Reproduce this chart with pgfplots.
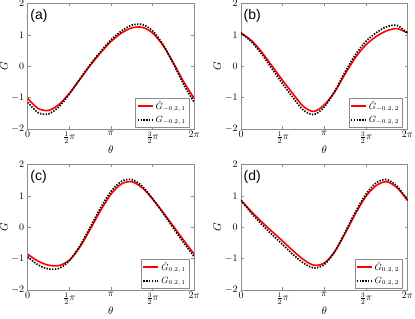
\documentclass[border=0pt]{standalone}
\usepackage{pgfplots}
\pgfplotsset{compat=1.18}
\usepackage{fontspec}
\newfontfamily\panelfont{Liberation Sans}
\definecolor{boxgray}{rgb}{0.55,0.55,0.55}
\pgfplotsset{
  gpanel/.style={
    scale only axis, width=166.5bp, height=125.5bp,
    anchor=south west,
    xmin=0, xmax=2, ymin=-2, ymax=2,
    xtick={0,0.5,1,1.5,2},
    xticklabels={$0$,$\frac{1}{2}\pi$,$\pi$,$\frac{3}{2}\pi$,$2\pi$},
    ytick={-2,-1,0,1,2},
    tick align=inside, tick pos=both,
    major tick length=3bp,
    axis line style={draw=boxgray, line width=0.5bp},
    every tick/.style={draw=boxgray, line width=0.5bp},
    tick label style={font=\fontsize{10}{12}\selectfont},
    label style={font=\fontsize{11}{13}\selectfont},
    xlabel={$\theta$}, ylabel={$G$},
    xlabel style={yshift=4bp},
    ylabel style={yshift=-3bp},
    xticklabel style={yshift=1bp},
    legend style={at={(0.97,0.015)}, anchor=south east, draw=boxgray,
      font=\fontsize{9}{10}\selectfont, inner sep=1.2bp, row sep=1bp},
    legend cell align=left,
    legend image code/.code={\draw[##1] (0bp,0bp) -- (15bp,0bp);},
  },
  redline/.style={red, line width=1.6bp, smooth, tension=0.5, no markers},
  blackline/.style={black, line width=1.7bp, dash pattern=on 1.4bp off 1.4bp, smooth, tension=0.5, no markers},
}
\begin{document}
\begin{tikzpicture}
\useasboundingbox (0,0) rectangle (415bp,319bp);
% (a)
\begin{axis}[gpanel, at={(27.7bp,190bp)}]
\addplot[redline] coordinates {(0,-1.025) (0.125,-1.346) (0.25,-1.406) (0.375,-1.220) (0.5,-0.861) (0.625,-0.422) (0.75,0.022) (0.875,0.427) (1.0,0.785) (1.125,1.055) (1.25,1.222) (1.375,1.240) (1.5,1.061) (1.625,0.665) (1.75,0.108) (1.875,-0.501) (2.0,-1.025)};
\addplot[blackline] coordinates {(0,-1.150) (0.125,-1.480) (0.25,-1.519) (0.375,-1.293) (0.5,-0.890) (0.625,-0.415) (0.75,0.051) (0.875,0.469) (1.0,0.840) (1.125,1.122) (1.25,1.309) (1.375,1.331) (1.5,1.130) (1.625,0.693) (1.75,0.079) (1.875,-0.587) (2.0,-1.150)};
\legend{$\hat{G}_{-0.2,\,1}$,$G_{-0.2,\,1}$}
\node[anchor=north west, font=\panelfont\fontsize{14}{14}\selectfont, inner sep=0pt] at (rel axis cs:0.015,0.955) {(a)};
\end{axis}
% (b)
\begin{axis}[gpanel, at={(241bp,190bp)}]
\addplot[redline] coordinates {(0,1.06) (0.125,0.82) (0.25,0.45) (0.375,0.0) (0.5,-0.45) (0.625,-0.88) (0.75,-1.28) (0.875,-1.44) (1.0,-1.23) (1.125,-0.82) (1.25,-0.25) (1.375,0.28) (1.5,0.68) (1.625,0.95) (1.75,1.13) (1.875,1.20) (2.0,1.06)};
\addplot[blackline] coordinates {(0,1.06) (0.125,0.78) (0.25,0.38) (0.375,-0.09) (0.5,-0.56) (0.625,-1.00) (0.75,-1.40) (0.875,-1.54) (1.0,-1.30) (1.125,-0.80) (1.25,-0.18) (1.375,0.37) (1.5,0.79) (1.625,1.07) (1.75,1.26) (1.875,1.30) (2.0,1.06)};
\legend{$\hat{G}_{-0.2,\,2}$,$G_{-0.2,\,2}$}
\node[anchor=north west, font=\panelfont\fontsize{14}{14}\selectfont, inner sep=0pt] at (rel axis cs:0.015,0.955) {(b)};
\end{axis}
% (c)
\begin{axis}[gpanel, at={(27.7bp,29bp)}]
\addplot[redline] coordinates {(0,-0.86) (0.125,-1.08) (0.25,-1.21) (0.375,-1.22) (0.5,-1.05) (0.625,-0.64) (0.75,-0.07) (0.875,0.53) (1.0,1.05) (1.125,1.38) (1.25,1.45) (1.375,1.26) (1.5,0.90) (1.625,0.48) (1.75,0.03) (1.875,-0.42) (2.0,-0.86)};
\addplot[blackline] coordinates {(0,-0.94) (0.125,-1.20) (0.25,-1.33) (0.375,-1.31) (0.5,-1.07) (0.625,-0.60) (0.75,0.0) (0.875,0.62) (1.0,1.14) (1.125,1.46) (1.25,1.52) (1.375,1.31) (1.5,0.91) (1.625,0.45) (1.75,-0.03) (1.875,-0.50) (2.0,-0.94)};
\legend{$\hat{G}_{0.2,\,1}$,$G_{0.2,\,1}$}
\node[anchor=north west, font=\panelfont\fontsize{14}{14}\selectfont, inner sep=0pt] at (rel axis cs:0.015,0.955) {(c)};
\end{axis}
% (d)
\begin{axis}[gpanel, at={(241bp,29bp)}]
\addplot[redline] coordinates {(0,0.86) (0.125,0.50) (0.25,0.17) (0.375,-0.14) (0.5,-0.44) (0.625,-0.75) (0.75,-1.03) (0.875,-1.21) (1.0,-1.14) (1.125,-0.78) (1.25,-0.20) (1.375,0.43) (1.5,0.98) (1.625,1.33) (1.75,1.45) (1.875,1.26) (2.0,0.86)};
\addplot[blackline] coordinates {(0,0.86) (0.125,0.45) (0.25,0.09) (0.375,-0.24) (0.5,-0.55) (0.625,-0.87) (0.75,-1.14) (0.875,-1.30) (1.0,-1.19) (1.125,-0.78) (1.25,-0.16) (1.375,0.49) (1.5,1.05) (1.625,1.42) (1.75,1.52) (1.875,1.31) (2.0,0.86)};
\legend{$\hat{G}_{0.2,\,2}$,$G_{0.2,\,2}$}
\node[anchor=north west, font=\panelfont\fontsize{14}{14}\selectfont, inner sep=0pt] at (rel axis cs:0.015,0.955) {(d)};
\end{axis}
\end{tikzpicture}
\end{document}
